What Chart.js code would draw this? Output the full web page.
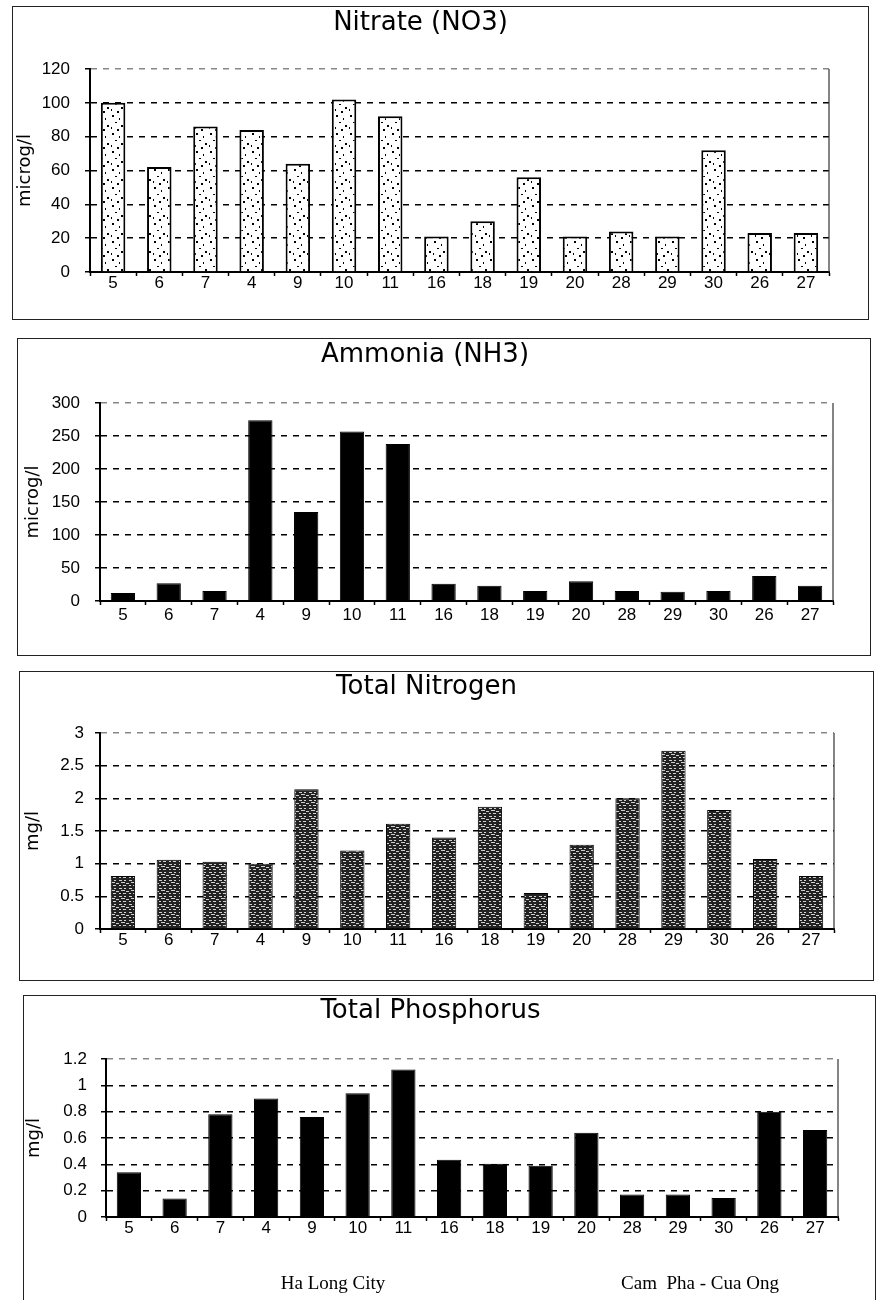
<!DOCTYPE html>
<html>
<head>
<meta charset="utf-8">
<title>Nitrate, Ammonia, Total Nitrogen, Total Phosphorus</title>
<script src="https://cdn.jsdelivr.net/npm/chart.js@4.4.1/dist/chart.umd.min.js"></script>
<style>
  body { margin: 0; background: #fff; width: 877px; height: 1300px; overflow: hidden; position: relative; }
  .frame { position: absolute; border: 1px solid #222; box-sizing: border-box; }
  canvas { position: absolute; }
  .area-label { position: absolute; font-family: "Liberation Serif", "Times New Roman", serif; font-size: 19px; color: #000; white-space: pre; transform: translate(-50%, -50%); }
</style>
</head>
<body>
<div class="frame" style="left:12px;top:6px;width:857px;height:314px"></div>
<canvas id="nitrateChart" width="856" height="313" style="left:12px;top:6px"></canvas>

<div class="frame" style="left:17px;top:338px;width:854px;height:318px"></div>
<canvas id="ammoniaChart" width="853" height="317" style="left:17px;top:338px"></canvas>

<div class="frame" style="left:19px;top:671px;width:855px;height:310px"></div>
<canvas id="nitrogenChart" width="854" height="309" style="left:19px;top:671px"></canvas>

<div class="frame" style="left:23px;top:995px;width:853px;height:330px"></div>
<canvas id="phosphorusChart" width="854" height="305" style="left:23px;top:995px"></canvas>

<div class="area-label" style="left:333px;top:1283px">Ha Long City</div>
<div class="area-label" style="left:700px;top:1283px">Cam  Pha - Cua Ong</div>

<script>
// sampling stations, same order in every panel
const stations = ['5', '6', '7', '4', '9', '10', '11', '16', '18', '19', '20', '28', '29', '30', '26', '27'];

// values
const nitrate = [100, 62, 86, 84, 64, 102, 92, 21, 30, 56, 21, 24, 21, 72, 23, 23];
const ammonia = [12, 27, 15, 274, 135, 257, 238, 26, 23, 15, 30, 15, 14, 15, 38, 23];
const totalNitrogen = [0.81, 1.06, 1.03, 1.0, 2.14, 1.2, 1.61, 1.4, 1.87, 0.55, 1.29, 2.0, 2.73, 1.82, 1.07, 0.81];
const totalPhosphorus = [0.34, 0.14, 0.78, 0.9, 0.76, 0.94, 1.12, 0.435, 0.405, 0.39, 0.64, 0.17, 0.17, 0.145, 0.8, 0.66];

// y axis ranges [max, step]
const nitrateAxis = [120, 20];
const ammoniaAxis = [300, 50];
const nitrogenAxis = [3, 0.5];
const phosphorusAxis = [1.2, 0.2];

const titleFont = '"DejaVu Sans", Verdana, sans-serif';
const tickFont = '"Liberation Sans", Arial, sans-serif';

// small repeating texture for the bar fills
function texture(canvasId, w, h, bg, fg, dots) {
	var c = document.createElement('canvas');
	c.width = w;
	c.height = h;
	var g = c.getContext('2d');
	g.fillStyle = bg;
	g.fillRect(0, 0, w, h);
	g.fillStyle = fg;
	dots.forEach(function(d) { g.fillRect(d[0], d[1], d[2], d[3]); });
	return document.getElementById(canvasId).getContext('2d').createPattern(c, 'repeat');
}

// thin line closing the plot on the right
const plotFrame = {
	id: 'plotFrame',
	beforeDatasetsDraw: function(chart) {
		var a = chart.chartArea, g = chart.ctx;
		g.save();
		g.strokeStyle = '#333';
		g.lineWidth = 1.2;
		g.beginPath();
		g.moveTo(a.right, a.top);
		g.lineTo(a.right, a.bottom);
		g.stroke();
		g.restore();
	}
};

function panelChart(id, p) {
	return new Chart(document.getElementById(id), {
		type: 'bar',
		data: {
			labels: stations,
			datasets: [{
				data: p.values,
				backgroundColor: p.fill,
				borderColor: '#000',
				borderWidth: p.border,
				barPercentage: 0.53,
				categoryPercentage: 1
			}]
		},
		options: {
			responsive: false,
			animation: false,
			layout: { padding: { left: 0, top: 0, right: p.padRight, bottom: p.padBottom } },
			plugins: {
				legend: { display: false },
				tooltip: { enabled: false },
				title: {
					display: true,
					text: p.title,
					color: '#000',
					font: { family: titleFont, size: 26, weight: 'normal' },
					padding: { top: p.titleTop, bottom: p.titleBottom }
				}
			},
			scales: {
				x: {
					grid: { offset: true, drawOnChartArea: false, tickLength: 4, tickColor: '#000', tickWidth: 1.5 },
					border: { color: '#000', width: 2 },
					ticks: { color: '#000', font: { family: tickFont, size: 17 }, padding: p.xPad, maxRotation: 0, autoSkip: false },
					afterFit: function(s) { s.height = 30; }
				},
				y: {
					min: 0,
					max: p.axis[0],
					ticks: {
						stepSize: p.axis[1],
						color: '#000',
						font: { family: tickFont, size: 17 },
						padding: p.yPad,
						// 1 not 1.0, 0.2 not 0.20
						callback: function(v) { return String(Number(v.toFixed(2))); }
					},
					grid: {
						color: function(ctx) { return ctx.tick && ctx.tick.value === p.axis[0] ? '#888' : '#000'; },
						lineWidth: 1.5,
						tickLength: 5,
						tickColor: '#000',
						tickWidth: 1.5,
						tickBorderDash: []
					},
					border: { color: '#000', width: 2, dash: [6, 6] },
					title: {
						display: true,
						text: p.unit,
						color: '#000',
						font: { family: titleFont, size: 18, weight: 'normal' },
						padding: { top: p.unitPad, bottom: 0 }
					},
					afterFit: function(s) { s.width = p.axisWidth; }
				}
			}
		},
		plugins: [plotFrame]
	});
}

const dotted = texture('nitrateChart', 14, 18, '#fff', '#000',
	[[2, 1, 2, 2], [9, 4, 1, 2], [5, 8, 2, 1], [11, 11, 2, 2], [1, 13, 1, 2], [7, 15, 2, 2]]);
const streaked = texture('nitrogenChart', 10, 8, '#222', '#d0d0d0',
	[[0, 1, 3, 1], [5, 1, 2, 1], [2, 3, 4, 1], [7, 4, 3, 1], [0, 6, 2, 1], [4, 6, 3, 1]]);

panelChart('nitrateChart', {
	title: 'Nitrate (NO3)', unit: 'microg/l', values: nitrate, axis: nitrateAxis,
	fill: dotted, border: 2,
	padRight: 39, padBottom: 17, titleTop: 2, titleBottom: 29.8,
	axisWidth: 78, unitPad: 3, yPad: 15, xPad: -3
});

panelChart('ammoniaChart', {
	title: 'Ammonia (NH3)', unit: 'microg/l', values: ammonia, axis: ammoniaAxis,
	fill: '#000', border: 1,
	padRight: 37, padBottom: 24, titleTop: 2, titleBottom: 31.8,
	axisWidth: 83, unitPad: 6, yPad: 15, xPad: 0
});

panelChart('nitrogenChart', {
	title: 'Total Nitrogen', unit: 'mg/l', values: totalNitrogen, axis: nitrogenAxis,
	fill: streaked, border: 1,
	padRight: 39, padBottom: 21, titleTop: 1, titleBottom: 29.8,
	axisWidth: 81, unitPad: 4, yPad: 11, xPad: -3
});

panelChart('phosphorusChart', {
	title: 'Total Phosphorus', unit: 'mg/l', values: totalPhosphorus, axis: phosphorusAxis,
	fill: '#000', border: 1,
	padRight: 39, padBottom: 53, titleTop: 1, titleBottom: 31.8,
	axisWidth: 83, unitPad: 1, yPad: 14, xPad: -3
});
</script>
</body>
</html>
